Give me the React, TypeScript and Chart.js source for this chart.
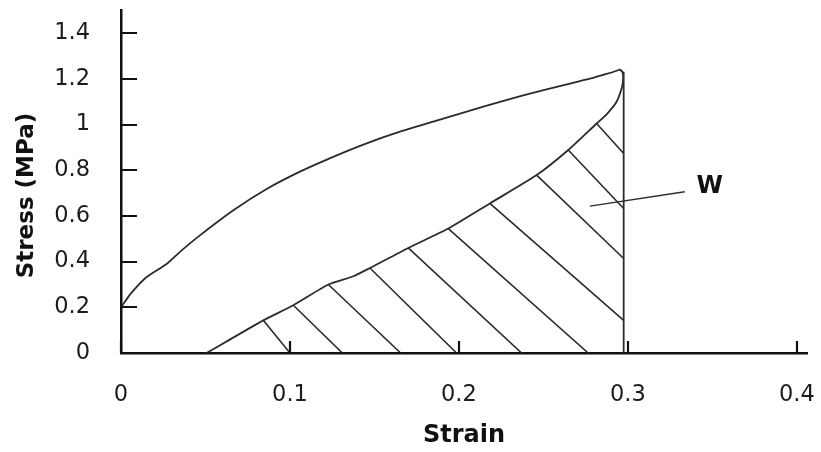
import React, { useEffect, useRef } from "react";
import { Chart, registerables } from "chart.js";

Chart.register(...registerables);

// Axis ticks
const xTicks = [0, 0.1, 0.2, 0.3, 0.4];
const yTicks = [0, 0.2, 0.4, 0.6, 0.8, 1, 1.2, 1.4];

// Axis titles & annotation
const xTitle = "Strain";
const yTitle = "Stress (MPa)";
const areaLabel = "W";

// Loading curve (strain, stress)
const loadingStrain = [0, 0.006, 0.0152, 0.027, 0.0349, 0.0467, 0.0665, 0.0862, 0.1059, 0.1256, 0.1454, 0.1651, 0.1848, 0.2046, 0.2243, 0.238, 0.2657, 0.2775, 0.2874, 0.2933, 0.2953];
const loadingStress = [0.2, 0.262, 0.333, 0.39, 0.443, 0.515, 0.625, 0.718, 0.794, 0.859, 0.918, 0.969, 1.013, 1.057, 1.1, 1.128, 1.18, 1.201, 1.222, 1.236, 1.242];

// Unloading curve (strain, stress)
const unloadStrain = [0.2953, 0.2968, 0.2972, 0.2963, 0.2933, 0.2874, 0.2815, 0.2647, 0.246, 0.2183, 0.1937, 0.17, 0.1473, 0.1375, 0.1227, 0.102, 0.0842, 0.0507];
const unloadStress = [1.242, 1.23, 1.2, 1.159, 1.1, 1.045, 1.005, 0.889, 0.779, 0.655, 0.545, 0.46, 0.372, 0.336, 0.3, 0.209, 0.143, 0];

// Vertical line at max strain
const dropStrain = [0.2975, 0.2975];
const dropStress = [0, 1.232];

// Hatch lines (energy area W)
const hatchFromStrain = [0.0842, 0.102, 0.1227, 0.1473, 0.17, 0.1937, 0.2183, 0.246, 0.2647, 0.2815];
const hatchFromStress = [0.143, 0.209, 0.3, 0.372, 0.46, 0.545, 0.655, 0.779, 0.889, 1.005];
const hatchToStrain = [0.1, 0.131, 0.1655, 0.1986, 0.2371, 0.2765, 0.2975, 0.2975, 0.2975, 0.2975];
const hatchToStress = [0, 0, 0, 0, 0, 0, 0.143, 0.414, 0.633, 0.874];

// Pointer line to label W
const pointerStrain = [0.2775, 0.3337];
const pointerStress = [0.643, 0.706];
const labelStrain = 0.3485;
const labelStress = 0.726;

const LINE = "#2b2b2b";
const AXIS = "#111";

export default function App() {
  const ref = useRef<HTMLCanvasElement>(null);

  useEffect(() => {
    document.body.style.margin = "0";
    const canvas = ref.current;
    if (!canvas) return;

    const pts = (xs: number[], ys: number[]) => xs.map((x, i) => ({ x, y: ys[i] }));
    const hatch: { x: number; y: number | null }[] = [];
    hatchFromStrain.forEach((x, i) => {
      hatch.push({ x, y: hatchFromStress[i] });
      hatch.push({ x: hatchToStrain[i], y: hatchToStress[i] });
      hatch.push({ x: hatchToStrain[i], y: null });
    });

    const decor = {
      id: "decor",
      afterDatasetsDraw(chart: any) {
        const { ctx, chartArea, scales } = chart;
        const xs = scales.x;
        const ys = scales.y;
        ctx.save();
        ctx.strokeStyle = AXIS;
        ctx.lineWidth = 2.2;
        ctx.beginPath();
        xTicks.forEach((v) => {
          const px = Math.round(xs.getPixelForValue(v));
          ctx.moveTo(px, chartArea.bottom);
          ctx.lineTo(px, chartArea.bottom - 12);
        });
        yTicks.forEach((v) => {
          const py = Math.round(ys.getPixelForValue(v));
          ctx.moveTo(chartArea.left, py);
          ctx.lineTo(chartArea.left + 16, py);
        });
        ctx.stroke();

        ctx.fillStyle = AXIS;
        ctx.textAlign = "center";
        ctx.textBaseline = "middle";
        ctx.font = 'bold 24px "DejaVu Sans"';
        ctx.fillText(areaLabel, xs.getPixelForValue(labelStrain), ys.getPixelForValue(labelStress));

        ctx.translate(27, (chartArea.top + chartArea.bottom) / 2 + 14);
        ctx.rotate(-Math.PI / 2);
        ctx.font = 'bold 23px "DejaVu Sans"';
        ctx.fillText(yTitle, 0, 0);
        ctx.restore();
      },
    };

    const lineDs = (label: string, data: any[], width = 1.8, tension = 0.2) => ({
      label,
      data,
      showLine: true,
      borderColor: LINE,
      backgroundColor: LINE,
      borderWidth: width,
      pointRadius: 0,
      tension,
      fill: false,
      spanGaps: false,
    });

    const chart = new Chart(canvas, {
      type: "scatter",
      data: {
        datasets: [
          lineDs("Loading", pts(loadingStrain, loadingStress)),
          lineDs("Unloading", pts(unloadStrain, unloadStress)),
          lineDs("Max strain", pts(dropStrain, dropStress), 1.8, 0),
          lineDs("W hatch", hatch, 1.6, 0),
          lineDs("W pointer", pts(pointerStrain, pointerStress), 1.4, 0),
        ],
      },
      options: {
        responsive: false,
        animation: false,
        events: [],
        layout: { padding: { top: 10, right: 14, left: 0, bottom: 0 } },
        plugins: { legend: { display: false }, tooltip: { enabled: false } },
        scales: {
          x: {
            type: "linear",
            min: 0,
            max: 0.406,
            afterBuildTicks: (s: any) => {
              s.ticks = xTicks.map((value) => ({ value }));
            },
            afterFit: (s: any) => {
              s.height = 99;
              s.paddingLeft = 0;
              s.paddingRight = 0;
            },
            grid: { drawOnChartArea: false, drawTicks: false },
            border: { display: true, color: AXIS, width: 2.5 },
            ticks: {
              padding: 29,
              color: "#1c1c1c",
              font: { family: "DejaVu Sans", size: 22.5 },
              maxRotation: 0,
              autoSkip: false,
              callback: (v: any) => String(v),
            },
            title: {
              display: true,
              text: xTitle,
              color: AXIS,
              font: { family: "DejaVu Sans", size: 24, weight: "bold" },
              padding: { top: 0, bottom: 2 },
            },
          },
          y: {
            type: "linear",
            min: 0,
            max: 1.502,
            afterBuildTicks: (s: any) => {
              s.ticks = yTicks.map((value) => ({ value }));
            },
            afterFit: (s: any) => {
              s.width = 121;
              s.paddingTop = 0;
              s.paddingBottom = 0;
            },
            grid: { drawOnChartArea: false, drawTicks: false },
            border: { display: true, color: AXIS, width: 2.5 },
            ticks: {
              padding: 31,
              color: "#1c1c1c",
              font: { family: "DejaVu Sans", size: 22.5 },
              autoSkip: false,
              callback: (v: any) => String(v),
            },
          },
        },
      },
      plugins: [decor],
    } as any);

    return () => chart.destroy();
  }, []);

  return (
    <div style={{ width: 821, height: 452, overflow: "hidden", background: "#fff" }}>
      <canvas ref={ref} width={821} height={452} style={{ display: "block" }} />
    </div>
  );
}
